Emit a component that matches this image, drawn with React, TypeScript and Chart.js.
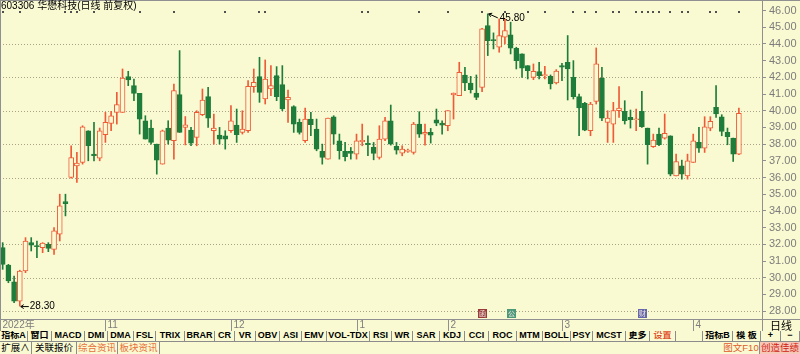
import React, { useEffect, useRef } from 'react';
import { Chart, registerables } from 'chart.js';
Chart.register(...registerables);

const BG = '#fafad2';
const UP = '#ee5b37';
const DOWN = '#1f7d3b';
const GRID = '#aaa388';
const AXIS = '#909090';

const opens = [31.8,30.76,29.75,28.6,30.4,32.1,31.92,31.8,32.0,31.7, 32.6,34.56,36.0,36.7,36.9,38.8,37.4,37.16,38.56,39.24, 39.9,39.9,42.04,41.5,41.04,39.4,38.96,38.0,36.8,38.96, 38.2,40.96,39.0,38.84,38.4,39.76,40.84,38.8,38.54,38.5, 38.8,39.14,38.7,38.8,41.44,42.04,40.7,41.3,42.1,41.56, 40.64,40.24,39.3,38.2,39.5,38.9,37.56,37.1,39.64,38.2, 37.56,37.56,37.4,38.15,38.04,37.8,37.2,38.3,39.4,37.86, 37.46,37.56,37.5,39.2,38.6,38.7,39.46,39.26,39.1,40.94, 40.9,42.14,41.66,41.06,41.4,45.1,44.26,43.8,44.4,44.54, 43.74,43.4,42.7,42.0,42.34,42.1,42.06,41.66,42.7,42.9, 42.0,40.84,40.44,38.8,40.56,41.96,39.3,39.2,40.0,39.96, 39.6,39.46,39.96,38.96,37.84,38.6,38.36,38.5,36.1,36.7, 36.1,36.9,38.1,37.76,38.96,40.2,39.64,38.7,38.36,37.4];
const highs = [32.1,30.8,30.1,30.45,32.4,32.4,32.2,32.1,32.1,33.0, 35.0,35.0,37.9,37.5,39.1,38.8,39.3,38.96,39.9,39.96, 41.1,42.5,42.36,41.9,41.04,39.7,39.44,38.0,38.84,39.4, 41.6,43.6,39.65,39.0,40.0,41.3,41.4,39.8,39.0,38.8, 40.3,40.1,40.0,41.8,42.5,43.2,43.04,42.7,42.64,42.7, 41.24,40.3,39.5,40.16,39.9,39.5,38.0,39.56,39.7,38.6, 38.1,37.8,38.6,39.2,38.5,38.1,39.1,39.6,40.34,38.1, 37.9,37.7,39.3,39.94,39.2,38.94,40.1,39.4,40.0,41.06, 42.9,42.6,42.06,42.14,44.94,45.8,44.66,45.5,45.5,45.3, 43.8,43.4,42.7,42.8,42.9,42.66,42.14,42.46,42.84,44.5, 43.0,41.0,40.5,40.5,43.76,42.6,40.0,40.5,41.44,40.6, 40.04,40.1,41.16,38.96,38.6,38.96,39.8,38.5,37.4,37.04, 37.4,38.6,39.0,39.64,39.64,41.5,39.76,38.96,38.36,40.16];
const lows = [30.5,29.7,28.5,28.3,30.3,31.6,31.2,31.5,31.56,31.4, 32.2,33.7,35.96,35.7,36.8,37.0,37.0,37.0,38.1,38.8, 39.2,39.9,41.5,40.6,38.6,38.3,38.0,36.2,36.8,38.0, 37.1,38.7,37.95,37.9,37.9,39.7,39.0,38.0,38.0,37.7, 38.7,38.1,38.6,38.7,41.1,40.5,40.4,40.9,40.6,40.0, 39.3,38.7,38.6,38.1,38.5,37.6,36.8,37.1,38.0,37.1, 37.0,37.1,37.1,37.9,37.3,37.06,37.1,38.2,37.94,37.4, 37.3,37.5,37.4,38.4,37.94,38.06,39.1,38.6,38.8,39.5, 40.9,41.2,41.06,40.66,41.14,43.3,43.7,43.5,44.0,43.4, 42.5,42.0,41.9,41.86,41.9,41.9,41.3,41.6,41.8,40.64, 40.7,38.5,38.8,38.5,40.4,39.4,38.1,38.1,39.6,39.2, 38.96,38.8,39.0,36.8,37.8,37.9,38.3,36.1,36.1,35.9, 35.9,36.9,37.5,37.5,38.8,39.6,38.5,37.96,36.96,37.36];
const closes = [30.8,29.8,28.6,30.4,32.2,31.95,31.86,32.08,31.76,32.8, 34.3,34.44,37.2,36.86,39.04,37.9,37.3,38.8,39.3,39.7, 40.36,41.96,41.84,41.04,39.5,38.3,38.1,37.04,38.8,38.24, 41.2,38.7,39.15,38.06,39.9,40.64,39.56,38.96,38.3,38.3, 39.4,38.56,38.9,41.46,41.7,41.1,41.9,41.5,40.84,40.1, 40.8,39.2,38.7,39.5,39.16,37.7,37.2,39.56,38.6,37.6, 37.24,37.44,38.2,38.22,37.96,37.44,38.3,39.4,38.0,37.64, 37.7,37.62,39.2,38.6,38.7,38.54,39.26,39.14,40.0,41.06, 42.3,41.66,41.26,40.8,44.9,44.2,44.2,44.5,44.8,43.74, 43.0,42.54,42.4,42.36,42.1,42.16,41.6,42.38,42.6,42.5, 40.84,40.16,38.84,40.4,42.8,39.56,39.56,40.0,40.16,39.4, 39.46,39.52,39.04,37.96,38.24,37.96,38.64,36.2,36.96,36.2, 37.0,38.2,37.76,39.04,39.36,39.8,38.76,38.44,37.4,39.84];

const yTicks = [46,45,44,43,42,41,40,39,38,37,36,35,34,33,32,31,30,29,28];
const gridValues = [44,42,40,38,36,34,32,30,28];
const monthStarts = [0,18,40,62,78,98,121];
const monthLabels = ['2022年','11','12','1','2','3','4'];
const markerIdx = [0,3,11,12,13,16,24,30,39,45,46,63,64,73,78,84,88,92,95,100,102,104,107,108,111,112,113,114,115,117,119,120,124,125,129];
const eventIdx = [84,89,112];
const eventChars = ['函','公','财'];
const eventColors = ['#9a3a3a','#4e987a','#6666aa'];

const row1Labels = ['指标A','窗口','MACD','DMI','DMA','FSL','TRIX','BRAR','CR','VR','OBV','ASI','EMV','VOL-TDX','RSI','WR','SAR','KDJ','CCI','ROC','MTM','BOLL','PSY','MCST','更多','设置','','指标B','模 板','+','−'];
const row1Widths = [28,24,33,23,26,22,29,30,20,21,24,22,25,43,22,21,27,25,24,28,26,28,22,33,24,26,27,30,28,20,19];
const row2Labels = ['扩展∧','关联报价','综合资讯','板块资讯'];
const row2Widths = [32,45,41,42];

const isUp = (i: number) => closes[i] >= opens[i];

function drawArrow(ctx: CanvasRenderingContext2D, x1: number, y1: number, x2: number, y2: number) {
  const a = Math.atan2(y2 - y1, x2 - x1);
  ctx.beginPath();
  ctx.moveTo(x1, y1);
  ctx.lineTo(x2, y2);
  ctx.moveTo(x2, y2);
  ctx.lineTo(x2 - 3.5 * Math.cos(a - 0.6), y2 - 3.5 * Math.sin(a - 0.6));
  ctx.moveTo(x2, y2);
  ctx.lineTo(x2 - 3.5 * Math.cos(a + 0.6), y2 - 3.5 * Math.sin(a + 0.6));
  ctx.stroke();
}

const decor = {
  id: 'tdxDecor',
  beforeDatasetsDraw(chart: any) {
    const { ctx, chartArea, scales } = chart;
    const y = scales.y;
    ctx.save();
    ctx.strokeStyle = GRID;
    ctx.lineWidth = 1;
    ctx.setLineDash([1, 2]);
    for (const v of gridValues) {
      const py = Math.round(y.getPixelForValue(v)) + 0.5;
      ctx.beginPath();
      ctx.moveTo(chartArea.left, py);
      ctx.lineTo(chartArea.right, py);
      ctx.stroke();
    }
    ctx.restore();
  },
  afterDraw(chart: any) {
    const { ctx, chartArea, scales, width, height } = chart;
    const x = scales.x, y = scales.y;
    ctx.save();
    // info markers row
    ctx.fillStyle = '#505050';
    for (const i of markerIdx) {
      const px = Math.round(x.getPixelForValue(i));
      ctx.fillRect(px - 1, 11, 2, 2);
    }
    // high / low annotations
    let hi = 0, lo = 0;
    highs.forEach((v, i) => { if (v > highs[hi]) hi = i; });
    lows.forEach((v, i) => { if (v < lows[lo]) lo = i; });
    ctx.strokeStyle = '#000';
    ctx.fillStyle = '#000';
    ctx.lineWidth = 1;
    ctx.font = '10px "Liberation Sans"';
    ctx.textBaseline = 'middle';
    ctx.textAlign = 'left';
    const hx = x.getPixelForValue(hi), hy = y.getPixelForValue(highs[hi]);
    drawArrow(ctx, hx + 10, hy + 4, hx + 1, hy);
    ctx.fillText(highs[hi].toFixed(2), hx + 12, hy + 4);
    const lx = x.getPixelForValue(lo), ly = y.getPixelForValue(lows[lo]);
    drawArrow(ctx, lx + 9, ly + 0.5, lx + 1, ly + 0.5);
    ctx.fillText(lows[lo].toFixed(2), lx + 10, ly + 0.5);
    // event icons
    ctx.font = '7px "Noto Sans CJK SC"';
    ctx.textAlign = 'center';
    eventIdx.forEach((idx, k) => {
      const px = Math.round(x.getPixelForValue(idx));
      ctx.fillStyle = eventColors[k];
      ctx.fillRect(px - 4, 309, 9, 9);
      ctx.fillStyle = '#f0e8e0';
      ctx.fillText(eventChars[k], px + 0.5, 313.5);
    });
    // borders
    const bottom = chartArea.bottom;
    ctx.strokeStyle = AXIS;
    ctx.beginPath();
    ctx.moveTo(0, 0.5); ctx.lineTo(width, 0.5);
    ctx.moveTo(0.5, 0); ctx.lineTo(0.5, height);
    ctx.moveTo(chartArea.right + 0.5, 0); ctx.lineTo(chartArea.right + 0.5, height);
    ctx.moveTo(0, bottom + 0.5); ctx.lineTo(width, bottom + 0.5);
    ctx.stroke();
    // date row
    ctx.textAlign = 'left';
    ctx.textBaseline = 'middle';
    ctx.font = '10px "Liberation Sans", "Noto Sans CJK SC"';
    monthStarts.forEach((idx, k) => {
      const px = k === 0 ? 0.5 : Math.round(x.getPixelForValue(idx)) + 0.5;
      ctx.strokeStyle = AXIS;
      ctx.beginPath();
      ctx.moveTo(px, bottom);
      ctx.lineTo(px, height);
      ctx.stroke();
      ctx.fillStyle = '#7c7c7c';
      ctx.fillText(monthLabels[k], px + 2, bottom + 6.5);
    });
    ctx.fillStyle = '#000';
    ctx.font = '11px "Noto Sans CJK SC"';
    ctx.fillText('日线', chartArea.right + 8, bottom + 6.5);
    ctx.restore();
  },
};

export default function App() {
  const ref = useRef<HTMLCanvasElement>(null);
  useEffect(() => {
    if (!ref.current) return;
    const idx = opens.map((_, i) => i);
    const chart = new Chart(ref.current, {
      type: 'bar',
      data: {
        datasets: [
          {
            label: 'wick',
            data: idx.map((i) => ({ x: i, y: [lows[i], highs[i]] })) as any,
            backgroundColor: idx.map((i) => (isUp(i) ? UP : DOWN)),
            borderWidth: 0,
            barThickness: 1,
            grouped: false,
            order: 2,
          } as any,
          {
            label: 'body',
            data: idx.map((i) => ({ x: i, y: [opens[i], closes[i]] })) as any,
            backgroundColor: idx.map((i) => (isUp(i) ? BG : DOWN)),
            borderColor: idx.map((i) => (isUp(i) ? UP : DOWN)),
            borderWidth: 1,
            borderSkipped: false,
            barThickness: 5,
            grouped: false,
            order: 1,
          } as any,
        ],
      },
      options: {
        responsive: false,
        animation: false,
        layout: { padding: { left: 0, right: 0, top: 0, bottom: 12 } },
        plugins: { legend: { display: false }, tooltip: { enabled: false } },
        scales: {
          x: { type: 'linear', min: -0.47, max: 133.05, display: false, offset: false },
          y: {
            position: 'right',
            min: 27.527,
            max: 46.629,
            afterFit: (s: any) => { s.width = 38; s.paddingTop = 0; s.paddingBottom = 0; },
            afterBuildTicks: (s: any) => { s.ticks = yTicks.map((v) => ({ value: v })); },
            grid: { drawOnChartArea: false, drawTicks: true, tickLength: 4, tickColor: AXIS },
            border: { display: false },
            ticks: {
              color: '#7c7c7c',
              padding: 3,
              font: { size: 11, family: '"Liberation Sans"' },
              callback: (v: any) => Number(v).toFixed(2),
            },
          },
        },
      } as any,
      plugins: [decor],
    });
    return () => chart.destroy();
  }, []);

  const cell = (label: string, w: number, color: string, h: number, key: number) => (
    <div
      key={key}
      style={{
        width: w,
        height: h,
        boxSizing: 'border-box',
        borderRight: '1px solid #8c8c8c',
        textAlign: 'center',
        lineHeight: h - 1 + 'px',
        color,
        whiteSpace: 'nowrap',
        overflow: 'hidden',
        flex: 'none',
      }}
    >
      {label}
    </div>
  );

  return (
    <div
      style={{
        position: 'fixed', left: 0, top: 0, width: 800, height: 354, background: BG, overflow: 'hidden',
        fontFamily: '"Liberation Sans", "Noto Sans CJK SC", sans-serif',
      }}
    >
      <canvas ref={ref} width={800} height={331} style={{ position: 'absolute', left: 0, top: 0, width: 800, height: 331 }} />
      <div style={{ position: 'absolute', left: 1, top: 0, fontSize: 10, lineHeight: '12px', color: '#000', whiteSpace: 'nowrap' }}>
        603306 华懋科技(日线 前复权)
      </div>
      <div
        style={{
          position: 'absolute', left: 0, top: 331, width: 800, height: 10, display: 'flex',
          borderBottom: '1px solid #8c8c8c', fontSize: 9, fontWeight: 'bold', boxSizing: 'content-box',
        }}
      >
        {row1Labels.map((l, i) => cell(l, row1Widths[i], l === '设置' ? '#e0502a' : '#000', 10, i))}
      </div>
      <div style={{ position: 'absolute', left: 0, top: 342, width: 800, height: 12, display: 'flex', fontSize: 9.5 }}>
        {row2Labels.map((l, i) => cell(l, row2Widths[i], i >= 2 ? '#e8703a' : '#000', 12, i))}
      </div>
      <div style={{ position: 'absolute', left: 723, top: 342, height: 12, display: 'flex', fontSize: 9.5 }}>
        {cell('图文F10', 37, '#e05a2a', 12, 0)}
        <div style={{ width: 40, height: 12, lineHeight: '11px', textAlign: 'center', color: '#d02010', background: '#f6c8b8', whiteSpace: 'nowrap' }}>创造佳绩</div>
      </div>
    </div>
  );
}
